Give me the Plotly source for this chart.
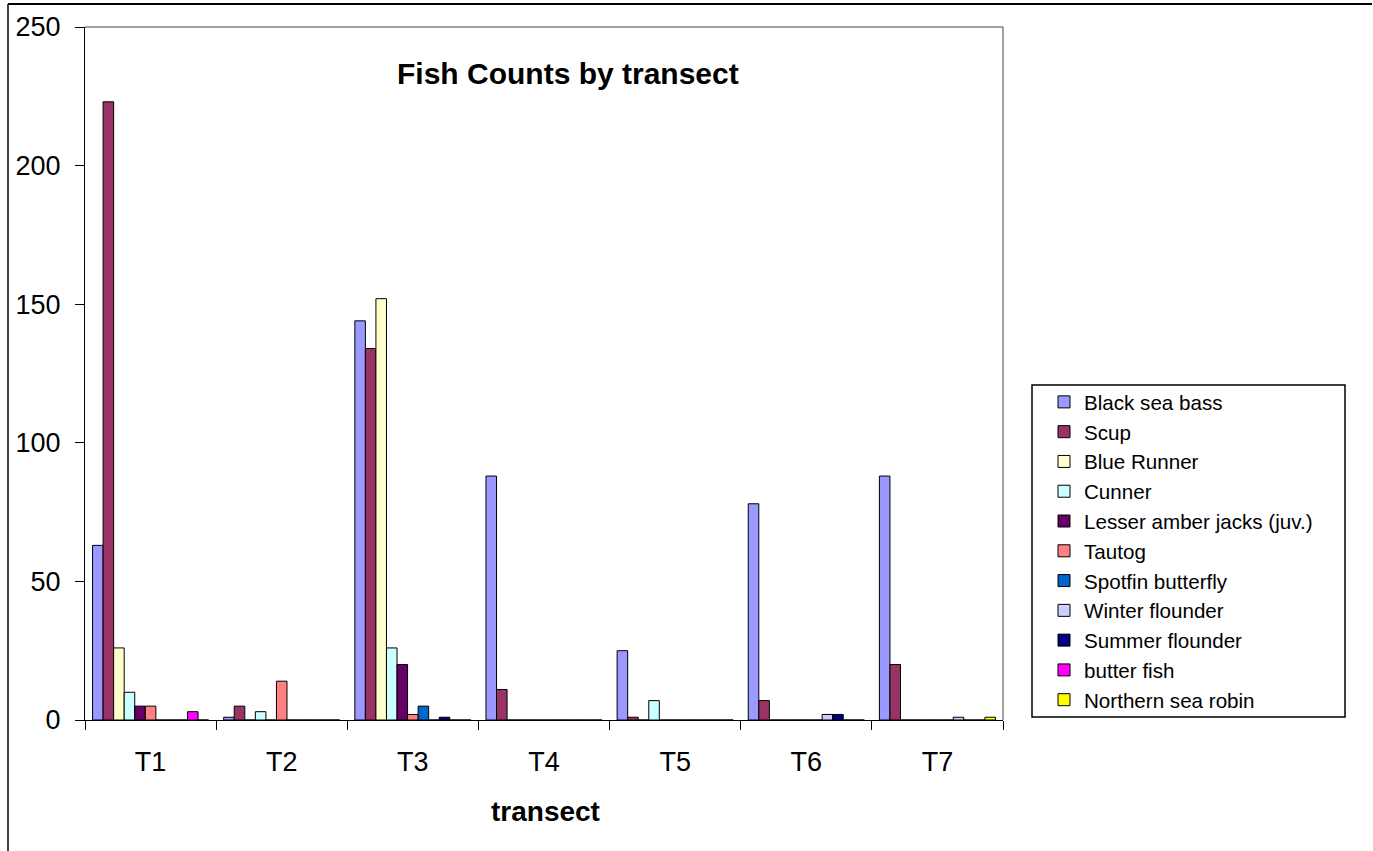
import plotly.graph_objects as go

# Transect categories and fish counts per species
transects = ["T1", "T2", "T3", "T4", "T5", "T6", "T7"]

black_sea_bass = [63, 1, 144, 88, 25, 78, 88]
scup = [223, 5, 134, 11, 1, 7, 20]
blue_runner = [26, 0, 152, 0, 0, 0, 0]
cunner = [10, 3, 26, 0, 7, 0, 0]
lesser_amber_jacks = [5, 0, 20, 0, 0, 0, 0]
tautog = [5, 14, 2, 0, 0, 0, 0]
spotfin_butterfly = [0, 0, 5, 0, 0, 0, 0]
winter_flounder = [0, 0, 0, 0, 0, 2, 1]
summer_flounder = [0, 0, 1, 0, 0, 2, 0]
butter_fish = [3, 0, 0, 0, 0, 0, 0]
northern_sea_robin = [0, 0, 0, 0, 0, 0, 1]

y_ticks = [0, 50, 100, 150, 200, 250]

series = [
    ("Black sea bass", black_sea_bass, "#9999FF"),
    ("Scup", scup, "#993366"),
    ("Blue Runner", blue_runner, "#FFFFCC"),
    ("Cunner", cunner, "#CCFFFF"),
    ("Lesser amber jacks (juv.)", lesser_amber_jacks, "#660066"),
    ("Tautog", tautog, "#FF8080"),
    ("Spotfin butterfly", spotfin_butterfly, "#0066CC"),
    ("Winter flounder", winter_flounder, "#CCCCFF"),
    ("Summer flounder", summer_flounder, "#000080"),
    ("butter fish", butter_fish, "#FF00FF"),
    ("Northern sea robin", northern_sea_robin, "#FFFF00"),
]

FONT = "Liberation Sans, Arial, sans-serif"

W, H = 1373, 851
ML, MR, MT, MB = 85, 370, 27, 131
PW, PH = W - ML - MR, H - MT - MB


def px_x(px):
    return (px - ML) / PW


def px_y(py):
    return (H - MB - py) / PH


fig = go.Figure()
for i, (name, vals, color) in enumerate(series):
    fig.add_trace(go.Bar(
        x=transects, y=vals, name=name,
        marker=dict(color=color, line=dict(color="black", width=1)),
        legendgroup=f"g{i}",
    ))

shapes = [
    # plot area frame (top and right edges)
    dict(type="line", xref="paper", yref="paper", x0=0, x1=1, y0=1, y1=1,
         line=dict(color="#808080", width=1.5), layer="below"),
    dict(type="line", xref="paper", yref="paper", x0=1, x1=1, y0=0, y1=1,
         line=dict(color="#808080", width=1.5), layer="below"),
    # chart outer frame
    dict(type="line", xref="paper", yref="paper", x0=px_x(8), x1=px_x(1372),
         y0=px_y(4), y1=px_y(4), line=dict(color="black", width=2)),
    dict(type="line", xref="paper", yref="paper", x0=px_x(8), x1=px_x(8),
         y0=px_y(4), y1=px_y(860), line=dict(color="black", width=1.5)),
    # legend frame
    dict(type="rect", xref="paper", yref="paper", x0=px_x(1032), x1=px_x(1345),
         y0=px_y(717), y1=px_y(385), line=dict(color="black", width=1.5)),
]

fig.update_layout(
    width=W, height=H, autosize=False,
    margin=dict(l=ML, r=MR, t=MT, b=MB, pad=0),
    paper_bgcolor="white", plot_bgcolor="white",
    font=dict(family=FONT, color="black"),
    barmode="group", bargap=0.115, bargroupgap=0,
    showlegend=True,
    legend=dict(
        x=px_x(1044), xanchor="left", y=px_y(382), yanchor="top",
        font=dict(family=FONT, size=20.6, color="black"),
        bgcolor="rgba(0,0,0,0)", borderwidth=0,
        traceorder="grouped", tracegroupgap=0,
    ),
    shapes=shapes,
    annotations=[
        dict(text="<b>Fish Counts by transect</b>", xref="paper", yref="paper",
             x=px_x(568), y=px_y(74), xanchor="center", yanchor="middle",
             showarrow=False, font=dict(family=FONT, size=30, color="black")),
        dict(text="<b>transect</b>", xref="paper", yref="paper",
             x=px_x(545), y=px_y(811), xanchor="center", yanchor="middle",
             showarrow=False, font=dict(family=FONT, size=28, color="black")),
    ],
)

fig.update_xaxes(
    showline=True, linecolor="black", linewidth=1,
    ticks="outside", tickson="boundaries", ticklen=9, tickcolor="black",
    tickfont=dict(family=FONT, size=27, color="black"),
    ticklabelstandoff=18, showgrid=False, zeroline=False,
)
fig.update_yaxes(
    range=[0, 250], tickvals=y_ticks,
    showline=True, linecolor="black", linewidth=1,
    ticks="outside", ticklen=9, tickcolor="black",
    tickfont=dict(family=FONT, size=27, color="black"),
    ticklabelstandoff=9, showgrid=False, zeroline=False,
)

fig.write_html("out.html")
